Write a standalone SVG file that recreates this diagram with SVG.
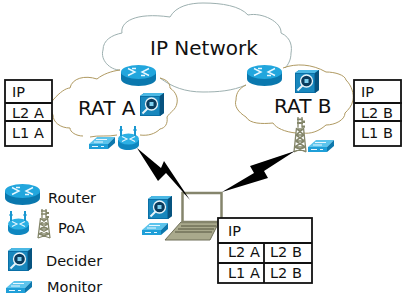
<svg xmlns="http://www.w3.org/2000/svg" width="406" height="294" viewBox="0 0 406 294">
<style>
text{font-family:"DejaVu Sans",sans-serif;fill:#111}
.big{font-size:20px}
.cell{font-size:14.500px}
.leg{font-size:14.500px}
.tbl{fill:#fff;stroke:#111;stroke-width:1.8}
.rule{fill:none;stroke:#111;stroke-width:1.8}
.core{fill:none;stroke:#9db0b0;stroke-width:1}
.edge{fill:none;stroke:#b09a62;stroke-width:1}
.bolt{fill:#000}
</style>
<defs>
<g id="router">
<path d="M0 7V14C0 18 8 21 17.500 21S35 18 35 14V7Z" fill="#0a78ae"/>
<ellipse cx="17.500" cy="7" rx="17.500" ry="7" fill="#22a6dd"/>
<path d="M7 3.500L14 7L7 10.500M28 3.500L21 7L28 10.500M11 3.500H15M24 10.500H20" fill="none" stroke="#e8f7ff" stroke-width="1.400"/>
</g>
<g id="decider">
<path d="M0 3L4 0H24V20L20 23H0Z" fill="#0a6fa6"/>
<path d="M0 3L4 0H24L20 3Z" fill="#4bb8e4"/>
<path d="M20 3L24 0V20L20 23Z" fill="#07537f"/>
<rect x="1" y="4" width="18" height="18" fill="#1887bd"/>
<circle cx="11.500" cy="11" r="6" fill="#0b3b5c" stroke="#e8f4fa" stroke-width="1.300"/>
<rect x="9.500" y="9" width="4" height="4" fill="#7fd0ef"/>
<path d="M7.500 15.500L2.500 20.500" stroke="#e8f4fa" stroke-width="2"/>
</g>
<g id="monitor">
<path d="M0 8L8 1H26L19 8Z" fill="#5cc4ec"/>
<path d="M0 8H19V13H0Z" fill="#1f9fd8"/>
<path d="M19 8L26 1V7L19 13Z" fill="#0d78ad"/>
<path d="M7 3.500H18M5 6H14M3 10.500H9M12 10.500H15" stroke="#e8f7ff" stroke-width="1" fill="none"/>
</g>
<g id="poa">
<path d="M1 14V19C1 22 6 24 11 24S22 22 22 19V14Z" fill="#0f87c0"/>
<ellipse cx="11.500" cy="13" rx="10.500" ry="5.500" fill="#2cb0e4"/>
<path d="M5 10.500L10 13L5 15.500M18 10.500L13 13L18 15.500" fill="none" stroke="#e8f7ff" stroke-width="1.100"/>
<path d="M4 0V10M18 0V10" stroke="#1997d0" stroke-width="2"/>
<path d="M2.500 4H5.500M16.500 4H19.500" stroke="#1997d0" stroke-width="2"/>
</g>
<g id="tower" fill="none" stroke="#84866a" stroke-width="1.300">
<path d="M4 0V9M8 0V9M2.500 9L0 29M9.500 9L12 29"/>
<path d="M3 10H9M2 15H10M1.500 20H10.500M0.500 25H11.500M3 10L10 15M9 10L2 15M2 15L10.500 20M10 15L1.500 20M1.500 20L11.500 25M10.500 20L0.500 25M0.500 25L12 29M11.500 25L0 29"/>
<path d="M3 2H9M3 5H9" stroke-width="1.600"/>
<path d="M8 4H11M8 8H11" stroke-width="2"/>
</g>
</defs>

<g id="clouds">
<path id="core-cloud" class="core" d="M120 70C110 70 100 60 103 50C103 40 112 35 122 33C120 22 135 12 170 17C176 6 190 3 203 3C222 3 240 6 248 15C262 12 282 22 281 33C292 38 292 48 291 53C291 60 288 65 285 68M246 85C232 91 218 92 203 92C185 92 172 87 160 78"/>
<path id="rat-a-cloud" class="edge" d="M53 100C60 92 66 88 70 88C72 78 85 75 97 79C103 74 112 71 120 70M160 78C168 80 170 84 170 88C176 92 178 98 177 103C176 110 170 112 167 117C168 124 165 128 160 129C155 134 148 136 140 135M117 135C108 137 98 135 90 137M83 136C76 136 70 132 70 128C60 128 53 122 53 115C50 110 50 104 53 100"/>
<path id="rat-b-cloud" class="edge" d="M283 68C296 63 312 64 326 72C335 72 345 75 346 80C352 86 354 94 353 100C352 106 348 110 345 113C345 120 335 125 326 125C318 132 310 134 303 133M296 133C285 132 276 128 273 123C262 124 250 124 246 117C238 112 234 106 236 100C236 92 240 88 246 85"/>
</g>

<text class="big" x="150" y="55">IP Network</text>
<text class="big" x="78" y="115">RAT A</text>
<text class="big" x="274" y="113">RAT B</text>

<g id="router-a"><use href="#router" x="121" y="65"/></g>
<g id="router-b"><use href="#router" x="247" y="65"/></g>
<g id="decider-a"><use href="#decider" x="140" y="93"/></g>
<g id="decider-b"><use href="#decider" x="295" y="70"/></g>
<g id="monitor-a"><use href="#monitor" x="89" y="136"/></g>
<g id="monitor-b"><use href="#monitor" x="308" y="139"/></g>
<g id="poa-a"><use href="#poa" x="117" y="126"/></g>
<g id="poa-b"><use href="#tower" transform="translate(294 117) scale(1 1.200)"/></g>

<g id="stack-a">
<rect class="tbl" x="5" y="80" width="47" height="66"/>
<path class="rule" d="M5 103H52M5 121H52"/>
<text class="cell" x="12" y="97">IP</text>
<text class="cell" x="12" y="118">L2 A</text>
<text class="cell" x="12" y="138">L1 A</text>
</g>
<g id="stack-b">
<rect class="tbl" x="354" y="80" width="47" height="66"/>
<path class="rule" d="M354 103H402M354 121H402"/>
<text class="cell" x="361" y="97">IP</text>
<text class="cell" x="361" y="118">L2 B</text>
<text class="cell" x="361" y="138">L1 B</text>
</g>

<g id="terminal">
<path d="M181 222H219L210 240H165Z" fill="#a9a98c" stroke="#6f6f58" stroke-width="1"/>
<path d="M181 226H216M178 229H214M175 232H212" stroke="#55553f" stroke-width="1"/>
<rect x="182.500" y="193" width="39" height="29" fill="#fff" stroke="#85856c" stroke-width="2.500"/>
<use href="#decider" x="148" y="196"/>
<use href="#monitor" x="142" y="222"/>
</g>

<g id="connectors">
<polygon class="bolt" points="137,148 161,168 164,161 190,200 166,173 158,181"/>
<polygon class="bolt" points="295,151 250,166 254,173 222,192 268,178 264,171"/>
</g>

<g id="stack-terminal">
<rect class="tbl" x="218" y="218" width="94" height="65"/>
<path class="rule" d="M218 243H312M218 263H312M264 243V283"/>
<text class="cell" x="228" y="236">IP</text>
<text class="cell" x="228" y="257">L2 A</text>
<text class="cell" x="270" y="257">L2 B</text>
<text class="cell" x="228" y="278">L1 A</text>
<text class="cell" x="270" y="278">L2 B</text>
</g>

<g id="legend">
<use href="#router" x="5" y="184"/>
<text class="leg" x="48" y="203">Router</text>
<use href="#poa" x="7" y="211"/>
<use href="#tower" x="38" y="209"/>
<text class="leg" x="58" y="233">PoA</text>
<use href="#decider" x="8" y="248"/>
<text class="leg" x="46" y="266">Decider</text>
<use href="#monitor" x="6" y="280"/>
<text class="leg" x="47" y="292">Monitor</text>
</g>
</svg>
